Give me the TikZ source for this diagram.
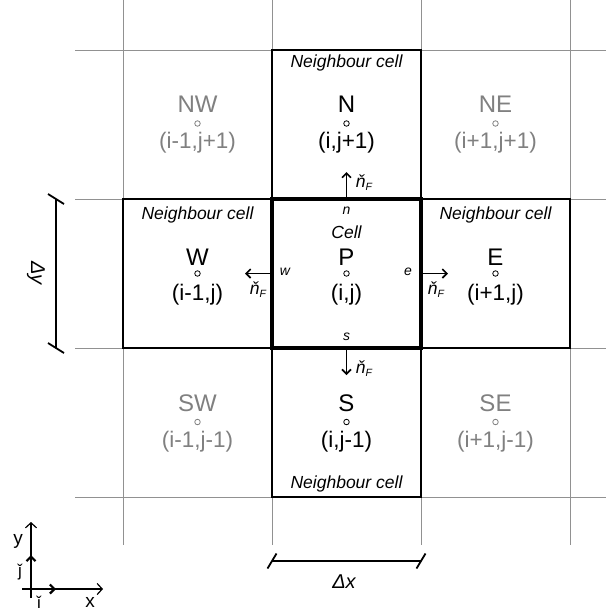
\documentclass[tikz,border=0pt]{standalone}
\usepackage{fontspec}
\setmainfont{Liberation Sans}
\usetikzlibrary{arrows.meta,calc}
\definecolor{gridgray}{RGB}{145,145,145}
\definecolor{txtgray}{RGB}{128,128,128}
\newcommand{\nF}{\v{n}{\fontsize{10.5}{10.5}\selectfont\raisebox{-3pt}{F}}}
\begin{document}
\begin{tikzpicture}[x=1pt,y=-1pt,
  gridline/.style={draw=gridgray, line width=1pt},
  cellbox/.style={draw=black, line width=1.4pt, minimum width=149pt, minimum height=149pt, inner sep=0pt, outer sep=0pt},
  biglab/.style={font=\fontsize{24}{24}\selectfont, anchor=base, inner sep=0pt},
  coordlab/.style={font=\fontsize{22.5}{22.5}\selectfont, anchor=base, inner sep=0pt},
  nbcell/.style={font=\fontsize{17.5}{17.5}\selectfont\itshape, anchor=base, inner sep=0pt},
  facelab/.style={font=\fontsize{14}{14}\selectfont\itshape, inner sep=0pt},
  nlab/.style={font=\fontsize{17.5}{17.5}\selectfont\itshape, inner sep=0pt},
  cdot/.style={circle, draw, fill=white, inner sep=0pt, minimum size=5.5pt, line width=0.8pt},
  normarrow/.style={-{Straight Barb[length=4.5pt,width=9pt]}, line width=1.6pt},
  axarrow/.style={-{Straight Barb[length=5pt,width=11pt]}, line width=1.2pt},
  unitarrow/.style={-{Straight Barb[length=4.5pt,width=9pt]}, line width=2.2pt},
  dimline/.style={line width=1.2pt},
  tickline/.style={line width=1.8pt}]
\useasboundingbox (0,0) rectangle (606,614);

% grid
\foreach \gx in {123,272,421,570} {
  \coordinate (gt\gx) at (\gx,0);
  \coordinate (gb\gx) at (\gx,545);
  \draw[gridline] (gt\gx) -- (gb\gx);
}
\foreach \gy in {50,199,348,497} {
  \coordinate (gl\gy) at (75,\gy);
  \coordinate (gr\gy) at (606,\gy);
  \draw[gridline] (gl\gy) -- (gr\gy);
}

% cells
\node[cellbox] (Ncell) at (346.5,124.5) {};
\node[cellbox] (Scell) at (346.5,422.5) {};
\node[cellbox] (Wcell) at (197.5,273.5) {};
\node[cellbox] (Ecell) at (495.5,273.5) {};
\node[minimum width=149pt, minimum height=149pt, inner sep=0pt, outer sep=0pt] (Pcell) at (346.5,273.5) {};
\draw[line width=3.2pt, line join=miter] (Pcell.north west) rectangle (Pcell.south east);

% neighbour cell labels
\node[nbcell] (nbN) at (346.5,67) {Neighbour cell};
\node[nbcell] (nbS) at (346.5,488) {Neighbour cell};
\node[nbcell] (nbW) at (197.5,219) {Neighbour cell};
\node[nbcell] (nbE) at (495.5,219) {Neighbour cell};
\node[nbcell] (cellP) at (346.5,238) {Cell};

% main labels (black)
\node[biglab] (labN) at (346.5,112) {N};
\node[cdot] (dotN) at (346.5,123.5) {};
\node[coordlab] (crdN) at (346.5,148) {(i,j+1)};

\node[biglab] (labP) at (346.5,265) {P};
\node[cdot] (dotP) at (346.5,273.5) {};
\node[coordlab] (crdP) at (346.5,300) {(i,j)};

\node[biglab] (labW) at (197.5,265) {W};
\node[cdot] (dotW) at (197.5,273.5) {};
\node[coordlab] (crdW) at (197.5,300) {(i-1,j)};

\node[biglab] (labE) at (495.5,265) {E};
\node[cdot] (dotE) at (495.5,273.5) {};
\node[coordlab] (crdE) at (495.5,300) {(i+1,j)};

\node[biglab] (labS) at (346.5,411) {S};
\node[cdot] (dotS) at (346.5,422) {};
\node[coordlab] (crdS) at (346.5,447) {(i,j-1)};

% diagonal labels (grey)
\node[biglab, text=txtgray] (labNW) at (197.5,112) {NW};
\node[coordlab, text=txtgray] (crdNW) at (197.5,148) {(i-1,j+1)};
\node[cdot, draw=txtgray] (dotNW) at (197.5,123.5) {};

\node[biglab, text=txtgray] (labNE) at (495.5,112) {NE};
\node[coordlab, text=txtgray] (crdNE) at (495.5,148) {(i+1,j+1)};
\node[cdot, draw=txtgray] (dotNE) at (495.5,123.5) {};

\node[biglab, text=txtgray] (labSW) at (197.5,411) {SW};
\node[coordlab, text=txtgray] (crdSW) at (197.5,447) {(i-1,j-1)};
\node[cdot, draw=txtgray] (dotSW) at (197.5,422) {};

\node[biglab, text=txtgray] (labSE) at (495.5,411) {SE};
\node[coordlab, text=txtgray] (crdSE) at (495.5,447) {(i+1,j-1)};
\node[cdot, draw=txtgray] (dotSE) at (495.5,422) {};

% face labels
\node[facelab] (fn) at (346.5,211) {n};
\node[facelab] (fs) at (346.5,337) {s};
\node[facelab] (fw) at (285,272) {w};
\node[facelab] (fe) at (408,272) {e};

% face normals
\coordinate (nN) at (346.5,172);
\coordinate (nS) at (346.5,375);
\coordinate (nW) at (245,273.5);
\coordinate (nE) at (448,273.5);
\draw[normarrow] (Pcell.north) -- (nN);
\draw[normarrow] (Pcell.south) -- (nS);
\draw[normarrow] (Pcell.west) -- (nW);
\draw[normarrow] (Pcell.east) -- (nE);
\node[nlab] (nlN) at (364,183) {\nF};
\node[nlab] (nlS) at (364,369) {\nF};
\node[nlab] (nlW) at (258,290) {\nF};
\node[nlab] (nlE) at (436,290) {\nF};

% dimension dy
\coordinate (dyT) at (56,199);
\coordinate (dyB) at (56,348);
\draw[dimline] (dyT) -- (dyB);
\draw[tickline] ($(dyT)+(-8,-5)$) -- ($(dyT)+(8,5)$);
\draw[tickline] ($(dyB)+(-8,-5)$) -- ($(dyB)+(8,5)$);
\node[font=\fontsize{20}{20}\selectfont\itshape, rotate=-90, inner sep=0pt] (dy) at (36,273) {Δy};

% dimension dx
\coordinate (dxL) at (272,561);
\coordinate (dxR) at (421,561);
\draw[dimline] (dxL) -- (dxR);
\draw[tickline] ($(dxL)+(-4.5,7.5)$) -- ($(dxL)+(4.5,-7.5)$);
\draw[tickline] ($(dxR)+(-4.5,7.5)$) -- ($(dxR)+(4.5,-7.5)$);
\node[font=\fontsize{20}{20}\selectfont\itshape, inner sep=0pt] (dx) at (344,582) {Δx};

% axes
\coordinate (O) at (31,589);
\coordinate (yb) at (31,598);
\coordinate (yt) at (31,522);
\coordinate (xl) at (22,589);
\coordinate (xr) at (103,589);
\draw[axarrow] (yb) -- (yt);
\draw[axarrow] (xl) -- (xr);
\coordinate (jt) at (31,555);
\coordinate (ir) at (56,589);
\draw[unitarrow] (O) -- (jt);
\draw[unitarrow] (O) -- (ir);
\node[font=\fontsize{19}{19}\selectfont, inner sep=0pt] (ylab) at (18,541) {y};
\node[font=\fontsize{19}{19}\selectfont, inner sep=0pt] (xlab) at (90,602) {x};
\node[font=\fontsize{17}{17}\selectfont, inner sep=0pt] (jlab) at (20,572) {ǰ};
\node[font=\fontsize{17}{17}\selectfont, inner sep=0pt] (ilab) at (39,602) {ǐ};
\end{tikzpicture}
\end{document}
